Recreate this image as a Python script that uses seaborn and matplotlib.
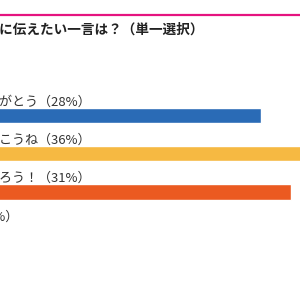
import matplotlib
matplotlib.use("Agg")
import matplotlib.pyplot as plt
from matplotlib.lines import Line2D
import seaborn as sns
import pandas as pd

# ---- data ----
title = "パートナーに伝えたい一言は？（単一選択）"
categories = ["いつもありがとう", "今度また行こうね", "一緒に頑張ろう！", "その他"]
values = [28, 36, 31, 1]
colors = ["#2A6BB6", "#F6B942", "#EB5A21", "#B5B5B5"]

df = pd.DataFrame({"cat": categories, "val": values})

sns.set_theme(style="white")
plt.rcParams["font.family"] = ["Noto Sans CJK JP", "DejaVu Sans"]

W = H = 300
fig = plt.figure(figsize=(3, 3), dpi=100)
fig.patch.set_facecolor("white")

# axes placed in pixel terms (the chart is a crop of a wider layout)
step = 38.25
top = 115.5 - 0.5 * step
bottom = top + 4 * step
left_px = -19
width_px = 400
ax = fig.add_axes([left_px / W, 1 - bottom / H, width_px / W, (bottom - top) / H])

sns.barplot(data=df, x="val", y="cat", hue="cat", palette=colors,
            orient="h", width=0.405, legend=False, ax=ax, saturation=1)
ax.set_xlim(0, 40)
ax.set_ylim(3.5, -0.5)
ax.set_axis_off()

lab_fs = 9.4
em = lab_fs * 100 / 72
for i, (c, v) in enumerate(zip(categories, values)):
    ax.annotate(f"{c}（{v}%）", xy=(0, i), xytext=(-5 * em + 19, 13.5),
                textcoords="offset pixels", ha="left", va="center",
                fontsize=lab_fs, color="#333333", annotation_clip=False)

# pink rule and title
fig.add_artist(Line2D([0, 1], [1 - 14.5 / H, 1 - 14.5 / H],
                      transform=fig.transFigure, color="#E5137F", linewidth=1.6))
t_fs = 9.8
t_em = t_fs * 100 / 72
fig.text(-5 * t_em / W, 1 - 30 / H, title, ha="left", va="center",
         fontsize=t_fs, fontweight="bold", color="#222222")

fig.savefig("out.png", dpi=100, facecolor="white")
